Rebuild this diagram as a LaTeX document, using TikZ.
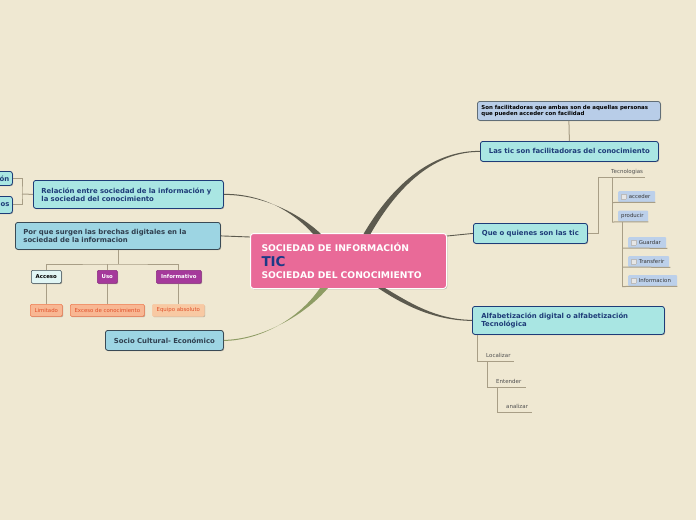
\documentclass[tikz,border=0pt]{standalone}
\usepackage{fontspec}
\setmainfont{DejaVu Sans}
\usetikzlibrary{calc,shadows}
\definecolor{bg}{HTML}{EFE8D2}
\definecolor{cenfill}{HTML}{E96A98}
\definecolor{ticblue}{HTML}{1B3A86}
\definecolor{cyanfill}{HTML}{A9E6E3}
\definecolor{cyanbord}{HTML}{1E3C78}
\definecolor{bluefill}{HTML}{9DD5E3}
\definecolor{bluebord}{HTML}{3A4A55}
\definecolor{bluetext}{HTML}{2F3F4F}
\definecolor{grayfill}{HTML}{B8CDE8}
\definecolor{purfill}{HTML}{A5399B}
\definecolor{purbord}{HTML}{8A2A80}
\definecolor{orfill}{HTML}{F8B793}
\definecolor{orbord}{HTML}{F07A50}
\definecolor{ortext}{HTML}{E0502A}
\definecolor{orlight}{HTML}{F8C9A3}
\definecolor{smfill}{HTML}{BCD0EA}
\definecolor{subc}{HTML}{A89E86}
\definecolor{connc}{HTML}{5C5A4E}
\definecolor{greenc}{HTML}{8E9C64}
\definecolor{leaftext}{HTML}{505050}
\definecolor{chkfill}{HTML}{E6E6E6}
\definecolor{chkfr}{HTML}{BBBBBB}
\newcommand{\mychk}{{\setlength\fboxsep{0pt}\setlength\fboxrule{0.3pt}\fcolorbox{chkfr}{chkfill}{\rule{0pt}{4.5pt}\rule{4.5pt}{0pt}}}\hspace{2.5pt}}
\begin{document}
\begin{tikzpicture}[x=1pt,y=-1pt,
  shad/.style={drop shadow={shadow xshift=0.8pt, shadow yshift=-0.8pt, opacity=0.25, fill=black}},
  box/.style={draw, rounded corners=2.5pt, line width=0.8pt, anchor=north west, inner xsep=8pt, inner ysep=0pt, align=left, shad,
    font=\bfseries\fontsize{6.9}{8}\selectfont},
  cyanbox/.style={box, fill=cyanfill, draw=cyanbord, text=cyanbord},
  bluebox/.style={box, fill=bluefill, draw=bluebord, text=bluetext},
  graybox/.style={box, fill=grayfill, draw=bluebord!80, text=black},
  cenbox/.style={box, fill=cenfill, draw=white, line width=1pt, text=white, rounded corners=3pt},
  sm/.style={draw, rounded corners=1.2pt, line width=0.6pt, anchor=north west, inner sep=0pt, align=center, shad,
    font=\bfseries\fontsize{5.4}{6}\selectfont},
  accbox/.style={sm, fill=cyanfill!35, draw=bluebord, text=black},
  purbox/.style={sm, fill=purfill, draw=purbord, text=white},
  orbox/.style={sm, fill=orfill, draw=orbord, text=ortext, font=\fontsize{5.4}{6}\selectfont},
  orlbox/.style={sm, fill=orlight, draw=orlight, text=ortext, font=\fontsize{5.4}{6}\selectfont},
  smbox/.style={anchor=north west, inner xsep=3pt, inner ysep=0pt, fill=smfill, rounded corners=1pt, align=left, text=leaftext!70!black,
    font=\fontsize{5.4}{6}\selectfont},
  leaf/.style={anchor=base west, inner sep=0pt, text=leaftext, font=\fontsize{5.5}{6}\selectfont},
  sub/.style={draw=subc, line width=1pt},
  thin/.style={draw=connc, line width=0.9pt}
]
\fill[bg] (0,0) rectangle (696,520);
\useasboundingbox (0,0) rectangle (696,520);

% ---------- nodes ----------
\node[cenbox, inner xsep=11pt, text width=174pt, minimum height=55pt, font=\bfseries\fontsize{9.2}{12.5}\selectfont] (cen) at (250,233)
  {SOCIEDAD DE INFORMACIÓN\\[2.5pt]
   {\color{ticblue}\fontsize{13.5}{12.5}\selectfont TIC}\\
   SOCIEDAD DEL CONOCIMIENTO};

\node[cyanbox, text width=174pt, minimum height=28pt] (rel) at (33,180)
  {Relación entre sociedad de la información y\\la sociedad del conocimiento};
\node[bluebox, text width=189pt, minimum height=27pt] (por) at (15,222)
  {Por que surgen las brechas digitales en la\\sociedad de la informacion};
\node[bluebox, text width=102pt, align=center, minimum height=20pt] (soc) at (105,330)
  {Socio Cultural- Económico};
\node[cyanbox, text width=162pt, align=center, minimum height=20pt] (lastic) at (480,141)
  {Las tic son facilitadoras del conocimiento};
\node[cyanbox, text width=98pt, align=center, minimum height=20pt] (que) at (473,223)
  {Que o quienes son las tic};
\node[cyanbox, inner xsep=9pt, text width=174pt, minimum height=28pt] (alf) at (472,306)
  {Alfabetización digital o alfabetización\\Tecnológica};
\node[graybox, inner xsep=4pt, text width=175pt, minimum height=19pt, font=\bfseries\fontsize{5.45}{6.3}\selectfont] (son) at (477,101)
  {Son facilitadoras que ambas son de aquellas personas\\que pueden acceder con facilidad};

% clipped nodes at the left edge
\node[cyanbox, inner xsep=3pt, text width=36pt, align=right, minimum height=14pt] (e1) at (-30,171) {ón};
\node[cyanbox, inner xsep=3pt, text width=36pt, align=right, minimum height=17pt] (e2) at (-30,196) {os};

% children of "Por que"
\node[accbox, minimum width=30pt, minimum height=13pt] (acc) at (31,270) {Acceso};
\node[purbox, minimum width=20pt, minimum height=13pt] (uso) at (97,270) {Uso};
\node[purbox, minimum width=45pt, minimum height=13pt] (inf) at (156,270) {Informativo};
\node[orbox, minimum width=32pt, minimum height=12pt] (lim) at (30,304) {Limitado};
\node[orbox, minimum width=74pt, minimum height=12pt] (exc) at (70,304) {Exceso de conocimiento};
\node[orlbox, minimum width=52pt, minimum height=12pt] (equ) at (152,304) {Equipo absoluto};

% right subtree of "Que o quienes"
\node[leaf] (tecn) at (611,173.5) {Tecnologias};
\node[smbox, text width=31pt, minimum height=11pt] (acd) at (618,191) {\mychk acceder};
\node[smbox, text width=24pt, minimum height=11pt] (pro) at (618,210.5) {producir};
\node[smbox, text width=32pt, minimum height=11pt] (gua) at (628,237) {\mychk Guardar};
\node[smbox, text width=35pt, minimum height=11pt] (tra) at (628,256) {\mychk Transferir};
\node[smbox, text width=43pt, minimum height=11pt] (ifo) at (628,275) {\mychk Informacion};

% subtree of "Alfabetización"
\node[leaf] (loc) at (486,357) {Localizar};
\node[leaf] (ent) at (496,383) {Entender};
\node[leaf] (ana) at (506,408) {analizar};

% ---------- connectors ----------
% main tapered connectors
\fill[connc] ($(cen.north west)+(113.5,1)$) .. controls (398,175) and (440,150.5) .. ($(lastic.west)+(0,-0.5)$)
  -- ($(lastic.west)+(0,0.5)$) .. controls (441,151.5) and (403,177) .. ($(cen.north west)+(120.5,1)$) -- cycle;
\fill[connc] ($(cen.north west)+(63,1)$) .. controls (292,210) and (260,193.5) .. ($(rel.east)+(0,-0.5)$)
  -- ($(rel.east)+(0,0.5)$) .. controls (260,194.5) and (298,212) .. ($(cen.north west)+(71,1)$) -- cycle;
\fill[connc] ($(cen.south west)+(128,-1)$) .. controls (405,306) and (435,320.5) .. ($(alf.west)+(0,0.5)$)
  -- ($(alf.west)+(0,-0.5)$) .. controls (436,319.5) and (410,303) .. ($(cen.south west)+(135,-1)$) -- cycle;
\fill[greenc] ($(cen.south west)+(70,-1)$) .. controls (299,319) and (260,340.5) .. ($(soc.east)+(0,0.5)$)
  -- ($(soc.east)+(0,-0.5)$) .. controls (261,339.5) and (304,316) .. ($(cen.south west)+(78,-1)$) -- cycle;
\draw[thin] (por.east) -- ($(cen.north west)+(0,4)$);
\draw[thin] ($(cen.north east)+(0,3)$) -- (que.west);

% sub lines
\draw[sub] (son.south) -- (lastic.north);
\draw[sub] (rel.west) -- (22,194) coordinate (rj);
\draw[sub] (e1.east) -| (rj) |- (e2.east);

\draw[sub] (por.south -| 118,0) -- (118,264) coordinate (pj);
\draw[sub] (acc.north) |- (pj) -| (inf.north);
\draw[sub] (uso.north) -- (uso.north |- pj);
\draw[sub] (acc.south) -- (acc.south |- lim.north);
\draw[sub] (uso.south) -- (uso.south |- exc.north);
\draw[sub] (inf.south) -- (inf.south |- equ.north);

\coordinate (qj) at (598,177);
\draw[sub] (que.east) -| (qj) -- (645,177);
\draw[sub] (612,177) -- (612,222);
\draw[sub] (612,202.5) -- (acd.south east);
\draw[sub] (612,222) -- (pro.south east);
\draw[sub] (622,222) -- (622,287);
\draw[sub] (622,248) -- ($(gua.south east)+(1,0)$);
\draw[sub] (622,267) -- ($(tra.south east)+(1,0)$);
\draw[sub] (622,286.5) -- (ifo.south east);

\draw[sub] (477,334.5) -- (477,361) -- (514,361);
\draw[sub] (487,361) -- (487,387) -- (526,387);
\draw[sub] (497,387) -- (497,412) -- (532,412);
\end{tikzpicture}
\end{document}
